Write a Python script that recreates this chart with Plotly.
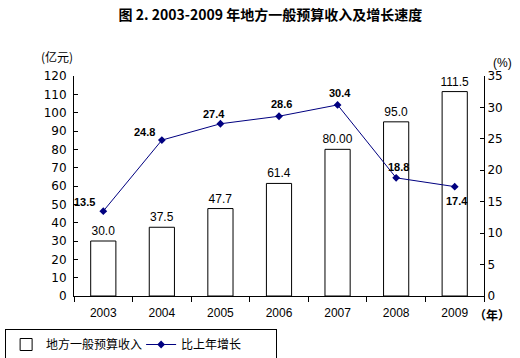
import plotly.graph_objects as go

years = ["2003", "2004", "2005", "2006", "2007", "2008", "2009"]
revenue = [30.0, 37.5, 47.7, 61.4, 80.0, 95.0, 111.5]
revenue_labels = ["30.0", "37.5", "47.7", "61.4", "80.00", "95.0", "111.5"]
growth = [13.5, 24.8, 27.4, 28.6, 30.4, 18.8, 17.4]
growth_labels = ["13.5", "24.8", "27.4", "28.6", "30.4", "18.8", "17.4"]
left_ticks = list(range(0, 121, 10))
right_ticks = list(range(0, 36, 5))

NUM_FONT = "DejaVu Sans, Liberation Sans, sans-serif"
ARIAL = "Liberation Sans, Arial, sans-serif"
CJK_FONT = "Noto Sans CJK SC, sans-serif"

fig = go.Figure()
fig.add_trace(go.Bar(
    x=years, y=revenue, name="地方一般预算收入",
    marker=dict(color="white", line=dict(color="black", width=1)),
    width=0.43,
    text=revenue_labels, textposition="outside", cliponaxis=False,
    constraintext="none",
    textfont=dict(family=ARIAL, size=12, color="black"),
))
fig.add_trace(go.Scatter(
    x=years, y=growth, name="比上年增长", yaxis="y2",
    mode="lines+markers",
    line=dict(color="#000080", width=1),
    marker=dict(symbol="diamond", size=6, color="#000080"),
))

# point label offsets (style)
offsets = [(-19, 9), (-17, 8), (-6, 10), (2, 12), (2, 12), (2, 11), (2, -14)]
for i, (y, t, (dx, dy)) in enumerate(zip(growth, growth_labels, offsets)):
    fig.add_annotation(x=i, y=y, xref="x", yref="y2", text="<b>%s</b>" % t, showarrow=False,
                       xshift=dx, yshift=dy,
                       font=dict(family=ARIAL, size=11, color="black"))

fig.add_annotation(xref="paper", yref="paper", x=-0.041, y=1.09, text="(亿元)",
                   showarrow=False, font=dict(family=CJK_FONT, size=12, color="black"),
                   xanchor="center", yanchor="middle")
fig.add_annotation(xref="paper", yref="paper", x=1.046, y=1.058, text="(%)",
                   showarrow=False, font=dict(family=ARIAL, size=12, color="black"),
                   xanchor="center", yanchor="middle")
fig.add_annotation(xref="paper", yref="paper", x=1.02, y=-0.082, text="<b>（年）</b>",
                   showarrow=False, font=dict(family=CJK_FONT, size=12, color="black"),
                   xanchor="center", yanchor="middle")

fig.update_layout(
    width=520, height=358,
    margin=dict(l=74, r=36, t=76, b=62, autoexpand=False),
    paper_bgcolor="white", plot_bgcolor="white",
    title=dict(text="<b>图 2. 2003-2009 年地方一般预算收入及增长速度</b>",
               x=0.52, xanchor="center", y=1 - 15 / 358, yanchor="middle",
               font=dict(family=CJK_FONT, size=14, color="black")),
    showlegend=True,
    legend=dict(orientation="h", x=-0.168, y=-0.15, xanchor="left", yanchor="top",
                bordercolor="black", borderwidth=1, bgcolor="white",
                font=dict(family=CJK_FONT, size=12, color="black"),
                itemwidth=30, tracegroupgap=0, entrywidth=90, entrywidthmode="pixels"),
    xaxis=dict(type="category", range=[-0.5, 6.5], showline=True, linecolor="black", linewidth=1,
               ticks="outside", tickson="boundaries", ticklen=5, tickcolor="black",
               ticklabelstandoff=6,
               tickfont=dict(family=ARIAL, size=12, color="black"),
               showgrid=False, zeroline=False),
    yaxis=dict(range=[0, 120], tickvals=left_ticks, showline=True, linecolor="black",
               ticks="inside", ticklen=4, tickcolor="black", ticklabelstandoff=4,
               tickfont=dict(family=NUM_FONT, size=12, color="black"),
               showgrid=False, zeroline=False),
    yaxis2=dict(range=[0, 35], tickvals=right_ticks, overlaying="y", side="right",
                showline=True, linecolor="black", ticks="inside", ticklen=4,
                tickcolor="black", tickfont=dict(family=NUM_FONT, size=12, color="black"),
                showgrid=False, zeroline=False),
    bargap=0.57,
)

fig.write_html("out.html", config={"displayModeBar": False},
               post_script="document.body.style.margin='0px';")
